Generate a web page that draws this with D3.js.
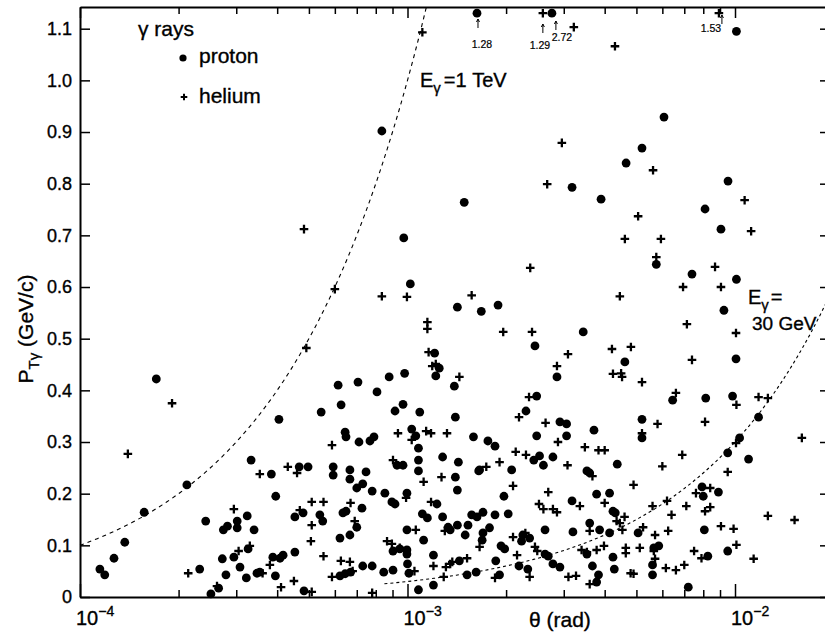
<!DOCTYPE html>
<html>
<head>
<meta charset="utf-8">
<script src="https://cdn.jsdelivr.net/npm/d3@7"></script>
<style>
  body { margin: 0; background: #fff; }
  svg { display: block; font-family: "Liberation Sans", Arial, sans-serif; }
  text { fill: #000; stroke: #000; stroke-width: 0.35px; }
</style>
</head>
<body>
<svg id="chart" width="825" height="635"></svg>
<script>
// theta in mrad, P_T in GeV/c
const protonPoints = [
  [0.835,0.902],[0.974,0.695],[1.02,0.606],[10.1,1.095],[6.07,0.929],[5.20,0.869],[4.65,0.840],
  [3.18,0.793],[3.90,0.770],[9.52,0.805],[8.10,0.751],[9.06,0.712],[5.75,0.644],[7.39,0.625],
  [10.1,0.615],[9.25,0.555],[1.49,0.764],[1.42,0.561],[1.68,0.553],[1.89,0.565],[3.44,0.513],
  [2.45,0.486],[1.21,0.472],[4.61,0.455],[10.07,0.461],[0.98,0.433],[1.25,0.443],[1.22,0.428],
  [1.39,0.408],[0.614,0.410],[0.706,0.416],[0.807,0.397],[0.879,0.426],[0.627,0.372],[0.969,0.373],
  [0.916,0.360],[1.09,0.358],[1.40,0.348],[0.645,0.319],[0.649,0.310],[0.711,0.300],[0.768,0.302],
  [0.79,0.310],[1.03,0.325],[1.06,0.312],[1.59,0.310],[1.08,0.288],[0.929,0.255],[0.969,0.255],
  [1.08,0.265],[1.08,0.244],[1.28,0.271],[1.43,0.261],[1.65,0.244],[0.593,0.252],[0.593,0.236],
  [0.667,0.246],[0.667,0.228],[0.747,0.242],[1.40,0.232],[0.73,0.219],[0.405,0.344],[0.545,0.358],
  [0.333,0.265],[0.384,0.238],[0.467,0.252],[0.497,0.252],[0.115,0.054],[0.119,0.043],[0.127,0.075],
  [0.137,0.106],[0.157,0.164],[0.171,0.422],[0.212,0.217],[0.396,0.195],[0.242,0.147],[0.274,0.130],
  [0.282,0.137],[0.302,0.134],[0.302,0.147],[0.324,0.157],[0.340,0.130],[0.326,0.093],[0.295,0.077],
  [0.272,0.074],[0.279,0.043],[0.308,0.058],[0.322,0.037],[0.232,0.054],[0.251,0.006],[0.265,0.017],
  [0.347,0.046],[0.354,0.048],[0.395,0.041],[0.388,0.077],[0.408,0.075],[0.417,0.081],[0.453,0.087],
  [0.483,0.012],[0.453,0.155],[0.480,0.163],[0.540,0.159],[0.551,0.147],[0.622,0.114],[0.667,0.120],
  [0.70,0.135],[0.635,0.163],[0.649,0.166],[0.622,0.041],[0.645,0.045],[0.670,0.048],[0.73,0.060],
  [0.78,0.060],[0.846,0.048],[0.903,0.052],[0.903,0.089],[0.947,0.093],[0.996,0.091],[0.996,0.083],
  [0.996,0.130],[0.853,0.201],[0.896,0.184],[0.916,0.180],[0.996,0.201],[0.70,0.211],[0.78,0.205],
  [0.726,0.172],[1.42,0.207],[1.23,0.180],[1.11,0.161],[1.15,0.153],[1.28,0.155],[1.33,0.135],
  [1.35,0.130],[1.42,0.139],[1.50,0.120],[1.53,0.139],[1.57,0.159],[1.63,0.155],[1.12,0.110],
  [1.20,0.081],[1.00,0.064],[1.01,0.046],[1.44,0.070],[1.52,0.043],[1.62,0.048],[1.08,0.014],
  [1.20,0.023],[1.97,0.195],[3.78,0.199],[4.14,0.201],[3.18,0.186],[4.24,0.166],[4.31,0.163],
  [1.70,0.164],[1.85,0.159],[2.03,0.161],[1.78,0.134],[1.70,0.124],[1.69,0.110],[2.63,0.130],
  [3.20,0.126],[3.60,0.143],[3.86,0.130],[4.14,0.124],[2.25,0.120],[2.36,0.114],[2.23,0.108],
  [1.93,0.099],[1.98,0.093],[2.63,0.083],[2.69,0.079],[3.53,0.083],[4.24,0.077],[1.86,0.070],
  [2.19,0.060],[2.33,0.054],[2.78,0.064],[2.92,0.058],[3.67,0.060],[4.28,0.054],[1.91,0.043],
  [3.83,0.043],[3.78,0.029],[2.86,0.426],[2.48,0.389],[2.30,0.360],[2.92,0.339],[3.06,0.335],
  [3.71,0.323],[2.48,0.312],[3.06,0.312],[1.76,0.302],[1.85,0.292],[2.53,0.273],[2.43,0.265],
  [2.60,0.255],[2.78,0.271],[1.66,0.246],[2.08,0.246],[3.53,0.244],[3.60,0.240],[4.37,0.257],
  [6.45,0.381],[8.14,0.385],[9.83,0.389],[5.20,0.344],[11.8,0.348],[5.20,0.308],[10.33,0.308],
  [9.50,0.279],[11.0,0.267],[7.93,0.213],[8.0,0.195],[8.9,0.203],[5.06,0.124],[8.06,0.130],
  [5.65,0.095],[5.85,0.099],[8.26,0.079],[9.50,0.089],[5.60,0.062],[5.60,0.043],[7.2,0.019]
];

const heliumPoints = [
  [0.483,0.712],[0.600,0.596],[0.835,0.582],[0.996,0.581],[1.11,1.093],[3.22,1.103],[4.30,1.066],
  [2.96,0.879],[5.62,0.826],[2.67,0.799],[10.7,0.768],[5.06,0.737],[11.2,0.708],[4.61,0.693],
  [5.94,0.693],[5.75,0.658],[2.37,0.637],[8.69,0.639],[9.06,0.600],[6.94,0.600],[1.57,0.584],
  [4.45,0.582],[1.15,0.532],[1.15,0.519],[1.96,0.513],[2.40,0.513],[7.13,0.528],[10.07,0.511],
  [1.16,0.474],[3.09,0.470],[4.21,0.480],[4.81,0.484],[4.24,0.432],[4.49,0.433],[4.52,0.426],
  [5.20,0.416],[7.39,0.459],[1.19,0.447],[1.22,0.451],[1.44,0.426],[0.491,0.482],[0.140,0.277],
  [0.191,0.375],[0.935,0.317],[1.03,0.304],[1.14,0.321],[1.18,0.317],[1.32,0.317],[0.588,0.294],
  [0.903,0.265],[1.12,0.223],[1.27,0.232],[0.354,0.238],[0.431,0.252],[0.460,0.240],[0.295,0.170],
  [0.305,0.089],[0.330,0.099],[0.214,0.046],[0.262,0.021],[0.361,0.046],[0.380,0.062],[0.411,0.019],
  [0.450,0.031],[0.51,0.010],[0.507,0.108],[0.554,0.079],[0.51,0.184],[0.554,0.184],[0.469,0.168],
  [0.51,0.139],[0.670,0.182],[0.69,0.147],[0.68,0.050],[0.626,0.070],[0.667,0.068],[0.588,0.039],
  [0.78,0.008],[0.866,0.108],[0.896,0.103],[0.947,0.095],[1.06,0.130],[0.99,0.192],[1.18,0.184],
  [1.30,0.128],[1.05,0.050],[1.20,0.060],[1.31,0.058],[1.35,0.064],[1.37,0.068],[1.52,0.075],
  [1.29,0.039],[1.66,0.097],[2.10,0.215],[2.69,0.203],[4.0,0.182],[3.36,0.176],[2.52,0.180],
  [2.60,0.170],[2.78,0.170],[2.86,0.164],[4.35,0.147],[4.45,0.143],[4.60,0.155],[4.53,0.130],
  [3.60,0.128],[2.10,0.116],[2.29,0.124],[2.16,0.081],[2.45,0.097],[2.49,0.089],[3.40,0.091],
  [3.53,0.087],[3.78,0.091],[3.98,0.099],[4.64,0.095],[4.64,0.085],[1.85,0.037],[2.36,0.039],
  [3.10,0.039],[3.27,0.041],[3.60,0.025],[4.80,0.046],[2.86,0.447],[2.35,0.387],[2.19,0.348],
  [2.64,0.337],[2.88,0.300],[3.48,0.290],[3.83,0.284],[4.0,0.284],[2.14,0.281],[2.30,0.275],
  [3.08,0.255],[1.91,0.261],[1.74,0.252],[3.67,0.234],[6.6,0.395],[11.8,0.387],[12.6,0.385],
  [10.1,0.372],[5.8,0.335],[8.1,0.339],[5.2,0.317],[10.07,0.298],[16.0,0.308],[6.9,0.275],
  [6.0,0.253],[9.5,0.242],[4.9,0.217],[7.6,0.201],[8.4,0.211],[5.6,0.176],[6.2,0.186],
  [7.1,0.176],[6.4,0.159],[8.1,0.166],[8.4,0.174],[12.6,0.157],[15.2,0.149],[5.24,0.135],
  [5.7,0.120],[6.25,0.128],[9.06,0.137],[9.9,0.132],[5.12,0.095],[5.65,0.089],[7.5,0.089],
  [7.9,0.075],[10.1,0.101],[11.4,0.074],[5.7,0.074],[6.15,0.056],[6.6,0.052],[7.0,0.062],[4.9,0.045]
];

// events above the frame: [theta mrad, P_T], drawn at the top edge with the value written under an arrow
const protonOffscale = [[1.63, 1.28], [2.76, 2.72]];
const heliumOffscale = [[2.59, 1.29], [8.93, 1.53]];

const yTicks = [0, 0.1, 0.2, 0.3, 0.4, 0.5, 0.6, 0.7, 0.8, 0.9, 1.0, 1.1];
const xMajor = [1e-4, 1e-3, 1e-2];
const xMinor = [2e-4, 3e-4, 4e-4, 5e-4, 6e-4, 7e-4, 8e-4, 9e-4,
                2e-3, 3e-3, 4e-3, 5e-3, 6e-3, 7e-3, 8e-3, 9e-3];

// E_gamma curves: P_T = E * theta
const curveEnergies = [1000, 30];          // GeV
const curveThetaRanges = [[1e-4, 1.142e-3], [0.85e-3, 0.019]];

const svg = d3.select("#chart");
const x = d3.scaleLog().domain([1e-4, 0.019]).range([80, 826.3]);
const y = d3.scaleLinear().domain([0, 1.142]).range([597, 7]);

function clean(g) {
  g.attr("font-family", null).attr("font-size", null);
  g.select(".domain").attr("stroke-width", 2);
  g.selectAll(".tick line").attr("stroke-width", 1.5);
}

// bottom
svg.append("g").attr("transform", "translate(0,597)")
  .call(d3.axisBottom(x).tickValues(xMinor).tickSize(-7).tickSizeOuter(0).tickFormat(""))
  .call(clean);
svg.append("g").attr("transform", "translate(0,597)")
  .call(d3.axisBottom(x).tickValues(xMajor).tickSize(-13).tickSizeOuter(0).tickFormat(""))
  .call(clean).call(g => g.select(".domain").remove());
// top
svg.append("g").attr("transform", "translate(0,7)")
  .call(d3.axisTop(x).tickValues(xMinor).tickSize(-7).tickSizeOuter(0).tickFormat(""))
  .call(clean);
svg.append("g").attr("transform", "translate(0,7)")
  .call(d3.axisTop(x).tickValues(xMajor).tickSize(-11).tickSizeOuter(0).tickFormat(""))
  .call(clean).call(g => g.select(".domain").remove());
// left
svg.append("g").attr("transform", "translate(80,0)")
  .call(d3.axisLeft(y).tickValues(yTicks).tickSize(-10).tickSizeOuter(0).tickPadding(8)
    .tickFormat(d => d === 0 ? "0" : d3.format(".1f")(d)))
  .call(clean)
  .call(g => g.selectAll(".tick text").attr("font-size", 18));
// right
svg.append("g").attr("transform", "translate(826,0)")
  .call(d3.axisRight(y).tickValues(yTicks).tickSize(-6).tickSizeOuter(0).tickFormat(""))
  .call(clean);

// x decade labels
const decLabels = svg.append("g").selectAll("text").data(xMajor).join("text")
  .attr("x", d => x(d) - 4).attr("y", 625).attr("font-size", 20);
decLabels.append("tspan").text("10");
decLabels.append("tspan").attr("dy", -9).attr("font-size", 14)
  .text(d => "\u2212" + Math.round(-Math.log10(d)));

svg.append("text").attr("x", 529).attr("y", 627).attr("font-size", 21).text("\u03b8 (rad)");

const yl = svg.append("text").attr("transform", "translate(33,329) rotate(-90)")
  .attr("text-anchor", "middle").attr("font-size", 21);
yl.append("tspan").text("P");
yl.append("tspan").attr("dy", 6).attr("font-size", 15).text("T\u03b3");
yl.append("tspan").attr("dy", -6).text(" (GeV/c)");

// curves
const line = d3.line().x(d => x(d[0])).y(d => y(d[1]));
curveEnergies.forEach((E, i) => {
  const [lo, hi] = curveThetaRanges[i];
  const pts = d3.range(0, 81).map(k => {
    const t = lo * Math.pow(hi / lo, k / 80);
    return [t, E * t];
  });
  svg.append("path").attr("d", line(pts)).attr("fill", "none").attr("stroke", "#000")
    .attr("stroke-width", 1.1).attr("stroke-dasharray", i === 0 ? "4,4" : "3,3");
});

// marks
const cross = "M-4.3,0H4.3M0,-4.3V4.3";
svg.append("g").selectAll("circle").data(protonPoints).join("circle")
  .attr("cx", d => x(d[0] * 1e-3)).attr("cy", d => y(d[1])).attr("r", 4.4).attr("fill", "#000");
svg.append("g").selectAll("path").data(heliumPoints).join("path")
  .attr("transform", d => `translate(${x(d[0] * 1e-3)},${y(d[1])})`)
  .attr("d", cross).attr("stroke", "#000").attr("stroke-width", 2.3);

// off-scale events at top edge
const topP = 1.13;
const offLayout = [ // arrow dx, arrow top, arrow bottom, label dx, label baseline
  { a: 1, t: 19, b: 28, l: 5, ly: 48 },
  { a: 4, t: 21, b: 30, l: 10, ly: 41 },
  { a: 0, t: 24, b: 33, l: -3, ly: 49 },
  { a: 3, t: 15, b: 24, l: -8, ly: 32 }
];
const offAll = protonOffscale.map(d => ({ d, kind: "p" }))
  .concat(heliumOffscale.map(d => ({ d, kind: "h" })));
offAll.forEach((o, i) => {
  const px = x(o.d[0] * 1e-3), py = y(topP), L = offLayout[i];
  if (o.kind === "p") {
    svg.append("circle").attr("cx", px).attr("cy", py).attr("r", 4.4).attr("fill", "#000");
  } else {
    svg.append("path").attr("transform", `translate(${px},${py})`).attr("d", cross)
      .attr("stroke", "#000").attr("stroke-width", 2.3);
  }
  const ax = px + L.a;
  svg.append("path").attr("d", `M${ax},${L.b}V${L.t}M${ax - 1.5},${L.t + 3}L${ax},${L.t}L${ax + 1.5},${L.t + 3}`)
    .attr("fill", "none").attr("stroke", "#000").attr("stroke-width", 1);
  svg.append("text").attr("x", px + L.l).attr("y", L.ly).attr("text-anchor", "middle")
    .attr("font-family", "'Liberation Sans Narrow', 'Liberation Sans', sans-serif")
    .attr("font-size", 10.5).style("stroke-width", "0.2px").text(d3.format(".2f")(o.d[1]));
});

// legend
svg.append("text").attr("x", 138).attr("y", 36).attr("font-size", 21).text("\u03b3 rays");
svg.append("circle").attr("cx", 183).attr("cy", 58).attr("r", 3.6).attr("fill", "#000");
svg.append("text").attr("x", 199).attr("y", 63).attr("font-size", 21).text("proton");
svg.append("path").attr("transform", "translate(184,97)").attr("d", "M-3.3,0H3.3M0,-3.3V3.3")
  .attr("stroke", "#000").attr("stroke-width", 2);
svg.append("text").attr("x", 199).attr("y", 103).attr("font-size", 21).text("helium");

// curve annotations
const a1 = svg.append("text").attr("x", 420).attr("y", 87).attr("font-size", 20);
a1.append("tspan").text("E");
a1.append("tspan").attr("dy", 6).attr("font-size", 15).text("\u03b3");
a1.append("tspan").attr("dy", -6).attr("dx", 3).text("=1 TeV");

const a2 = svg.append("text").attr("x", 748).attr("y", 304).attr("font-size", 20);
a2.append("tspan").text("E");
a2.append("tspan").attr("dy", 6).attr("font-size", 15).text("\u03b3");
a2.append("tspan").attr("dy", -6).attr("dx", 2).text("=");
svg.append("text").attr("x", 752).attr("y", 330).attr("font-size", 19).text("30 GeV");
</script>
</body>
</html>
